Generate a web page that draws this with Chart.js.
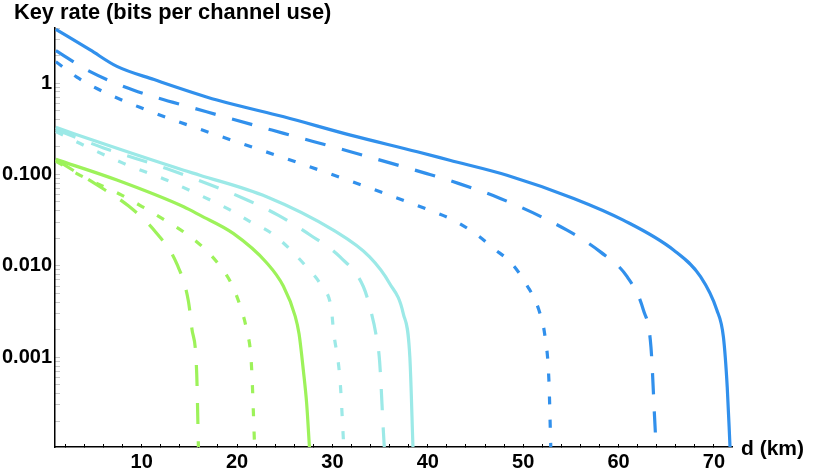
<!DOCTYPE html>
<html>
<head>
<meta charset="utf-8">
<script src="https://cdn.jsdelivr.net/npm/chart.js@4"></script>
<style>
  html, body { margin: 0; padding: 0; background: #fff; }
</style>
</head>
<body>
<canvas id="rateChart" width="830" height="473"></canvas>
<script>
// axis texts and ticks
const yTitle = 'Key rate (bits per channel use)';
const xTitle = 'd (km)';
const xTickValues = [10, 20, 30, 40, 50, 60, 70];
const xTickLabels = ['10', '20', '30', '40', '50', '60', '70'];
const yTickValues = [0.001, 0.01, 0.1, 1];
const yTickLabels = ['0.001', '0.010', '0.100', '1'];

// blue curves
const blueSolidD = [1.0, 4.6, 7.4, 11.3, 17.9, 24.9, 31.9, 38.9, 42.3, 48.3, 55.3, 60.5, 65.8, 68.6, 70.3, 71.0, 71.4, 71.7];
const blueSolidR = [3.87, 2.30, 1.52, 1.09, 0.651, 0.427, 0.269, 0.177, 0.143, 0.098, 0.0546, 0.0316, 0.0148, 0.0076, 0.0033, 0.00166, 0.00047, 0.0001];
const blueDashD = [1.0, 4.6, 9.1, 16.8, 24.9, 31.9, 39.9, 42.7, 47.6, 54.6, 58.1, 60.9, 62.6, 63.4, 63.9, 64.0];
const blueDashR = [2.26, 1.33, 0.84, 0.485, 0.281, 0.177, 0.102, 0.083, 0.0546, 0.0245, 0.0142, 0.0076, 0.0033, 0.0013, 0.00013, 0.0001];
const blueDotD = [1.0, 3.2, 5.3, 9.8, 17.9, 26.6, 33.6, 40.6, 42.7, 45.2, 46.9, 48.8, 50.4, 51.6, 52.3, 52.7, 52.9];
const blueDotR = [1.71, 1.16, 0.87, 0.542, 0.269, 0.132, 0.073, 0.039, 0.0316, 0.0216, 0.0155, 0.0106, 0.0061, 0.0034, 0.00166, 0.00056, 0.0001];

// cyan curves
const cyanSolidD = [1.0, 6.7, 14.4, 16.1, 23.1, 30.1, 33.9, 36.0, 37.43, 38.12, 38.45];
const cyanSolidR = [0.327, 0.204, 0.111, 0.098, 0.057, 0.0245, 0.0125, 0.0064, 0.003, 0.001, 0.0001];
const cyanDashD = [1.0, 6.0, 12.6, 20.7, 24.3, 27.7, 30.8, 33.25, 34.0, 34.6, 34.95, 35.35, 35.45];
const cyanDashR = [0.31, 0.195, 0.116, 0.0546, 0.0358, 0.0216, 0.0125, 0.0059, 0.0033, 0.0017, 0.0009, 0.00015, 0.0001];
const cyanDotD = [1.0, 3.5, 8.1, 12.6, 17.2, 19.3, 21.4, 23.8, 27.3, 28.9, 29.9, 30.1, 30.8, 31.2];
const cyanDotR = [0.295, 0.219, 0.132, 0.0867, 0.0523, 0.0407, 0.0303, 0.022, 0.0097, 0.0059, 0.0033, 0.002, 0.00056, 0.0001];

// green curves
const greenSolidD = [1.0, 7.4, 14.4, 16.1, 19.6, 23.1, 24.85, 26.1, 26.5, 26.95, 27.3, 27.6];
const greenSolidR = [0.146, 0.0867, 0.0442, 0.0358, 0.0226, 0.0108, 0.006, 0.0028, 0.0018, 0.00072, 0.00031, 0.0001];
const greenDashD = [1.0, 2.8, 5.2, 8.6, 11.5, 13.7, 14.9, 15.25, 15.77, 15.95];
const greenDashR = [0.145, 0.111, 0.078, 0.0453, 0.0232, 0.0104, 0.0041, 0.0021, 0.00066, 0.0001];
const greenDotD = [1.0, 3.2, 7.9, 10.2, 12.3, 14.4, 16.3, 18.0, 19.4, 20.3, 21.0, 21.5, 21.85];
const greenDotR = [0.14, 0.102, 0.0593, 0.0435, 0.0322, 0.0235, 0.0164, 0.0106, 0.0064, 0.0037, 0.002, 0.00085, 0.0001];

const blue = '#3190ec';
const cyan = '#9ce9e7';
const green = '#9df25a';
const longDash = [21, 17];
const shortDash = [8, 15];
const fontFamily = '"Liberation Sans", Arial, sans-serif';

function series(d, r, color, dash) {
    return {
        data: d.map((x, i) => ({ x: x, y: r[i] })),
        borderColor: color,
        borderWidth: 3.2,
        borderDash: dash,
        borderCapStyle: 'butt',
        pointRadius: 0,
        fill: false,
        cubicInterpolationMode: 'monotone'
    };
}

// both axis titles sit outside the usual spots, so draw them ourselves
const axisTitlePlugin = {
    id: 'axisTitles',
    afterDraw(chart) {
        const { ctx, chartArea } = chart;
        ctx.save();
        ctx.fillStyle = '#000';
        ctx.textAlign = 'left';
        ctx.textBaseline = 'alphabetic';
        ctx.font = 'bold 21.8px ' + fontFamily;
        ctx.fillText(yTitle, 14, 19);
        ctx.font = 'bold 21px ' + fontFamily;
        ctx.fillText(xTitle, chartArea.right + 9, chartArea.bottom + 8);
        ctx.restore();
    }
};

function findLabel(v, values, labels) {
    const i = values.findIndex(t => Math.abs(v - t) < t * 1e-6);
    return i >= 0 ? labels[i] : '';
}

const ctx = document.getElementById('rateChart');
new Chart(ctx, {
    type: 'line',
    data: {
        datasets: [
            series(blueSolidD, blueSolidR, blue, []),
            series(blueDashD, blueDashR, blue, longDash),
            series(blueDotD, blueDotR, blue, shortDash),
            series(cyanSolidD, cyanSolidR, cyan, []),
            series(cyanDashD, cyanDashR, cyan, longDash),
            series(cyanDotD, cyanDotR, cyan, shortDash),
            series(greenSolidD, greenSolidR, green, []),
            series(greenDashD, greenDashR, green, longDash),
            series(greenDotD, greenDotR, green, shortDash)
        ]
    },
    options: {
        responsive: false,
        animation: false,
        layout: { padding: { left: 0, right: 98, top: 28, bottom: 0 } },
        plugins: {
            legend: { display: false },
            tooltip: { enabled: false },
            title: { display: false }
        },
        scales: {
            x: {
                type: 'linear',
                min: 0.91,
                max: 71.9,
                afterFit: s => { s.height = 26; },
                afterBuildTicks: s => {
                    const t = [];
                    for (let v = 2; v <= 70; v += 2) t.push({ value: v });
                    s.ticks = t;
                },
                border: { color: '#000', width: 1.5 },
                grid: { drawOnChartArea: false, drawTicks: true, tickLength: -3, tickColor: '#000', tickWidth: 1 },
                ticks: {
                    autoSkip: false,
                    maxRotation: 0,
                    padding: 6,
                    color: '#000',
                    font: { family: fontFamily, size: 20, weight: 'bold' },
                    callback: v => findLabel(v, xTickValues, xTickLabels)
                }
            },
            y: {
                type: 'logarithmic',
                min: 1.04e-4,
                max: 4.0,
                afterFit: s => { s.width = 55; },
                afterBuildTicks: s => {
                    const t = [];
                    for (let e = -4; e <= 0; e++) {
                        for (let m = 1; m <= 9; m++) {
                            const v = m * Math.pow(10, e);
                            if (v >= s.min && v <= s.max) t.push({ value: v });
                        }
                    }
                    s.ticks = t;
                },
                border: { color: '#000', width: 1.5 },
                grid: { drawOnChartArea: false, drawTicks: true, tickLength: -5, tickColor: '#c8c8c8', tickWidth: 1 },
                ticks: {
                    autoSkip: false,
                    padding: 8,
                    color: '#000',
                    font: { family: fontFamily, size: 20, weight: 'bold' },
                    callback: v => findLabel(v, yTickValues, yTickLabels)
                }
            }
        }
    },
    plugins: [axisTitlePlugin]
});
</script>
</body>
</html>
